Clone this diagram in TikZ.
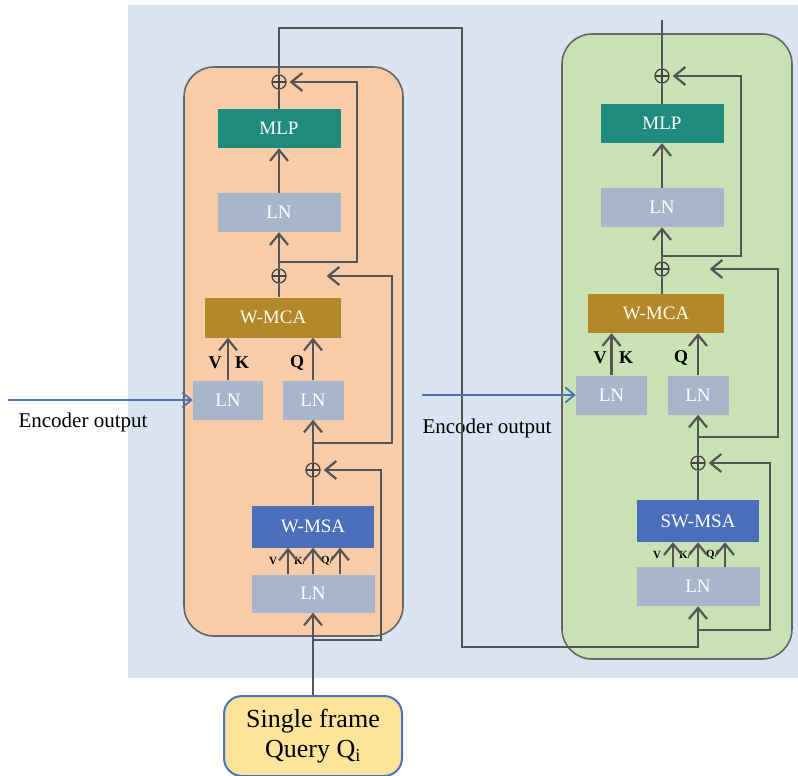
\documentclass[tikz,border=0pt]{standalone}
\usepackage{fontspec}
\setmainfont{Liberation Serif}
\usepackage{tikz}
\usetikzlibrary{arrows.meta}
\definecolor{bgblue}{HTML}{DAE3F0}
\definecolor{peach}{HTML}{F8CCA9}
\definecolor{leaf}{HTML}{C9E2B4}
\definecolor{lngray}{HTML}{A8B6CB}
\definecolor{mlpteal}{HTML}{1F8B7D}
\definecolor{mcagold}{HTML}{B3882B}
\definecolor{msablue}{HTML}{4A6EBA}
\definecolor{linegray}{HTML}{555555}
\definecolor{encblue}{HTML}{4A72C0}
\definecolor{queryfill}{HTML}{FDE49B}

\begin{document}
\begin{tikzpicture}[x=1pt, y=-1pt,
    conn/.style={draw=linegray, line width=2.2pt},
    arr/.style={conn, -{Straight Barb[length=11pt,width=18pt]}},
    enc/.style={draw=encblue, line width=1.8pt, -{Straight Barb[length=9pt,width=15pt]}},
    blk/.style={inner sep=0pt, text=white, font=\fontsize{19}{21}\selectfont},
    lnbox/.style={blk, fill=lngray, minimum width=123pt, minimum height=39pt},
    lnsmall/.style={blk, fill=lngray, minimum height=39pt},
    mlpbox/.style={blk, fill=mlpteal, minimum width=123pt, minimum height=39pt},
    mcabox/.style={blk, fill=mcagold, text=white!92!yellow, minimum width=136pt, minimum height=40pt},
    msabox/.style={blk, fill=msablue, minimum width=122pt, minimum height=42pt},
    addnode/.style={circle, draw=linegray!80!black, line width=1.3pt, minimum size=14pt, inner sep=0pt,
      path picture={\draw[line width=1.3pt, linegray!80!black]
        (path picture bounding box.north) -- (path picture bounding box.south)
        (path picture bounding box.west) -- (path picture bounding box.east);}},
    lbl/.style={font=\bfseries\fontsize{18}{20}\selectfont, inner sep=0pt},
    tiny/.style={font=\bfseries\fontsize{11}{12}\selectfont, inner sep=0pt},
    blockbg/.style={draw=linegray!90, line width=1.6pt, rounded corners=30pt}]
  \useasboundingbox (0,0) rectangle (798,776);
  \fill[bgblue] (128,5) rectangle (798,678);
  \draw[blockbg, fill=peach] (184,67) rectangle (403,636);
  \draw[blockbg, fill=leaf] (562,34) rectangle (792,659);

      \node[addnode](Add13) at (279, 82) {};
      \node[mlpbox](MLP1) at (279, 128.5) {MLP};
      \node[lnbox](LN13) at (279, 212.5) {LN};
      \node[addnode](Add12) at (279, 276) {};
      \node[mcabox](MCA1) at (273, 317.5) {W-MCA};
        \node[lnsmall, minimum width=70pt](LNenc1) at (228, 400) {LN};
        \node[lnsmall, minimum width=61pt](LNq1) at (313, 400) {LN};
      \node[addnode](Add11) at (313, 470) {};
      \node[msabox](MSA1) at (313, 526.5) {W-MSA};
      \node[lnbox, minimum height=38pt](LN11) at (313, 593.5) {LN};
      \node[draw=encblue, line width=2pt, fill=queryfill, rounded corners=18pt,
            minimum width=178pt, minimum height=80pt, align=center,
            font=\fontsize{26}{30}\selectfont](Query) at (313, 736) {Single frame\\Query Q\textsubscript{i}};

      \node[lbl](V1) at (215, 363) {V};
      \node[lbl](K1) at (242, 363) {K};
      \node[lbl](Q1) at (297, 363) {Q};
      \node[tiny](Vs1) at (273, 561) {V};
      \node[tiny](Ks1) at (300, 561) {K/};
      \node[tiny](Qs1) at (327, 561) {Q/};

      \node[addnode](Add23) at (662, 76) {};
      \node[mlpbox](MLP2) at (662, 123.5) {MLP};
      \node[lnbox](LN23) at (662, 207.5) {LN};
      \node[addnode](Add22) at (662, 269) {};
      \node[mcabox, minimum height=39pt](MCA2) at (656, 313.5) {W-MCA};
        \node[lnsmall, minimum width=71pt](LNenc2) at (611.5, 395) {LN};
        \node[lnsmall, minimum width=61pt](LNq2) at (698, 395) {LN};
      \node[addnode](Add21) at (698, 463) {};
      \node[msabox](MSA2) at (698, 521) {SW-MSA};
      \node[lnbox](LN21) at (698, 586.5) {LN};

      \node[lbl](V2) at (600, 358) {V};
      \node[lbl](K2) at (626, 358) {K};
      \node[lbl](Q2) at (681, 358) {Q};
      \node[tiny](Vs2) at (657, 555) {V};
      \node[tiny](Ks2) at (685, 555) {K/};
      \node[tiny](Qs2) at (712, 555) {Q/};

      \node[font=\fontsize{21}{24}\selectfont](EncTxt1) at (83, 422) {Encoder output};
      \node[font=\fontsize{21}{24}\selectfont](EncTxt2) at (487, 428) {Encoder output};

      \coordinate (Enc1) at (8, 400);
      \coordinate (Enc2) at (422, 395);
      \coordinate (Br13) at (279, 262);
      \coordinate (Br12) at (313, 443);
      \coordinate (Br11) at (313, 640);
      \coordinate (Br23) at (662, 256);
      \coordinate (Br22) at (698, 437);
      \coordinate (Br21) at (698, 630);
      \coordinate (Out2) at (662, 20);

      \draw[conn] (MLP1) -- (Add13) (Add12.south) -- (Add12.south |- MCA1.north) (MSA1) -- (Add11)
                  (MLP2) -- (Add23) (Add22.south) -- (Add22.south |- MCA2.north) (MSA2) -- (Add21)
                  (Add23) -- (Out2);
      \draw[arr] (LN13) -- (MLP1);
      \draw[arr] (Add12) -- (LN13);
      \draw[arr] (LNenc1.north) -- (LNenc1.north |- MCA1.south);
      \draw[arr] (LNq1.north) -- (LNq1.north |- MCA1.south);
      \draw[arr] (Add11) -- (LNq1);
      \draw[arr] (Query) -- (LN11);
      \draw[arr] (LN23) -- (MLP2);
      \draw[arr] (Add22) -- (LN23);
      \draw[arr] (LNenc2.north) -- (LNenc2.north |- MCA2.south);
      \draw[arr] (LNq2.north) -- (LNq2.north |- MCA2.south);
      \draw[arr] (Add21) -- (LNq2);
      \foreach \dx in {-25, 0, 27} {
        \draw[arr] ([xshift=\dx pt]LN11.north) -- ([xshift=\dx pt]MSA1.south);
        \draw[arr] ([xshift=\dx pt]LN21.north) -- ([xshift=\dx pt]MSA2.south);
      }

      \draw[arr, shorten >=3pt] (Br13) -- (357, 262) |- (Add13);
      \draw[arr, shorten >=40pt] (Br12) -- (392, 443) |- (Add12);
      \draw[arr, shorten >=3pt] (Br11) -- (381, 640) |- (Add11);
      \draw[arr, shorten >=3pt] (Br23) -- (741, 256) |- (Add23);
      \draw[arr, shorten >=40pt] (Br22) -- (778, 437) |- (Add22);
      \draw[arr, shorten >=3pt] (Br21) -- (770, 630) |- (Add21);
      \draw[arr] (Add13) |- (462, 28) -- (462, 647) -| (LN21);

      \draw[enc] (Enc1) -- (LNenc1);
      \draw[enc] (Enc2) -- (LNenc2);
    \end{tikzpicture}
\end{document}
